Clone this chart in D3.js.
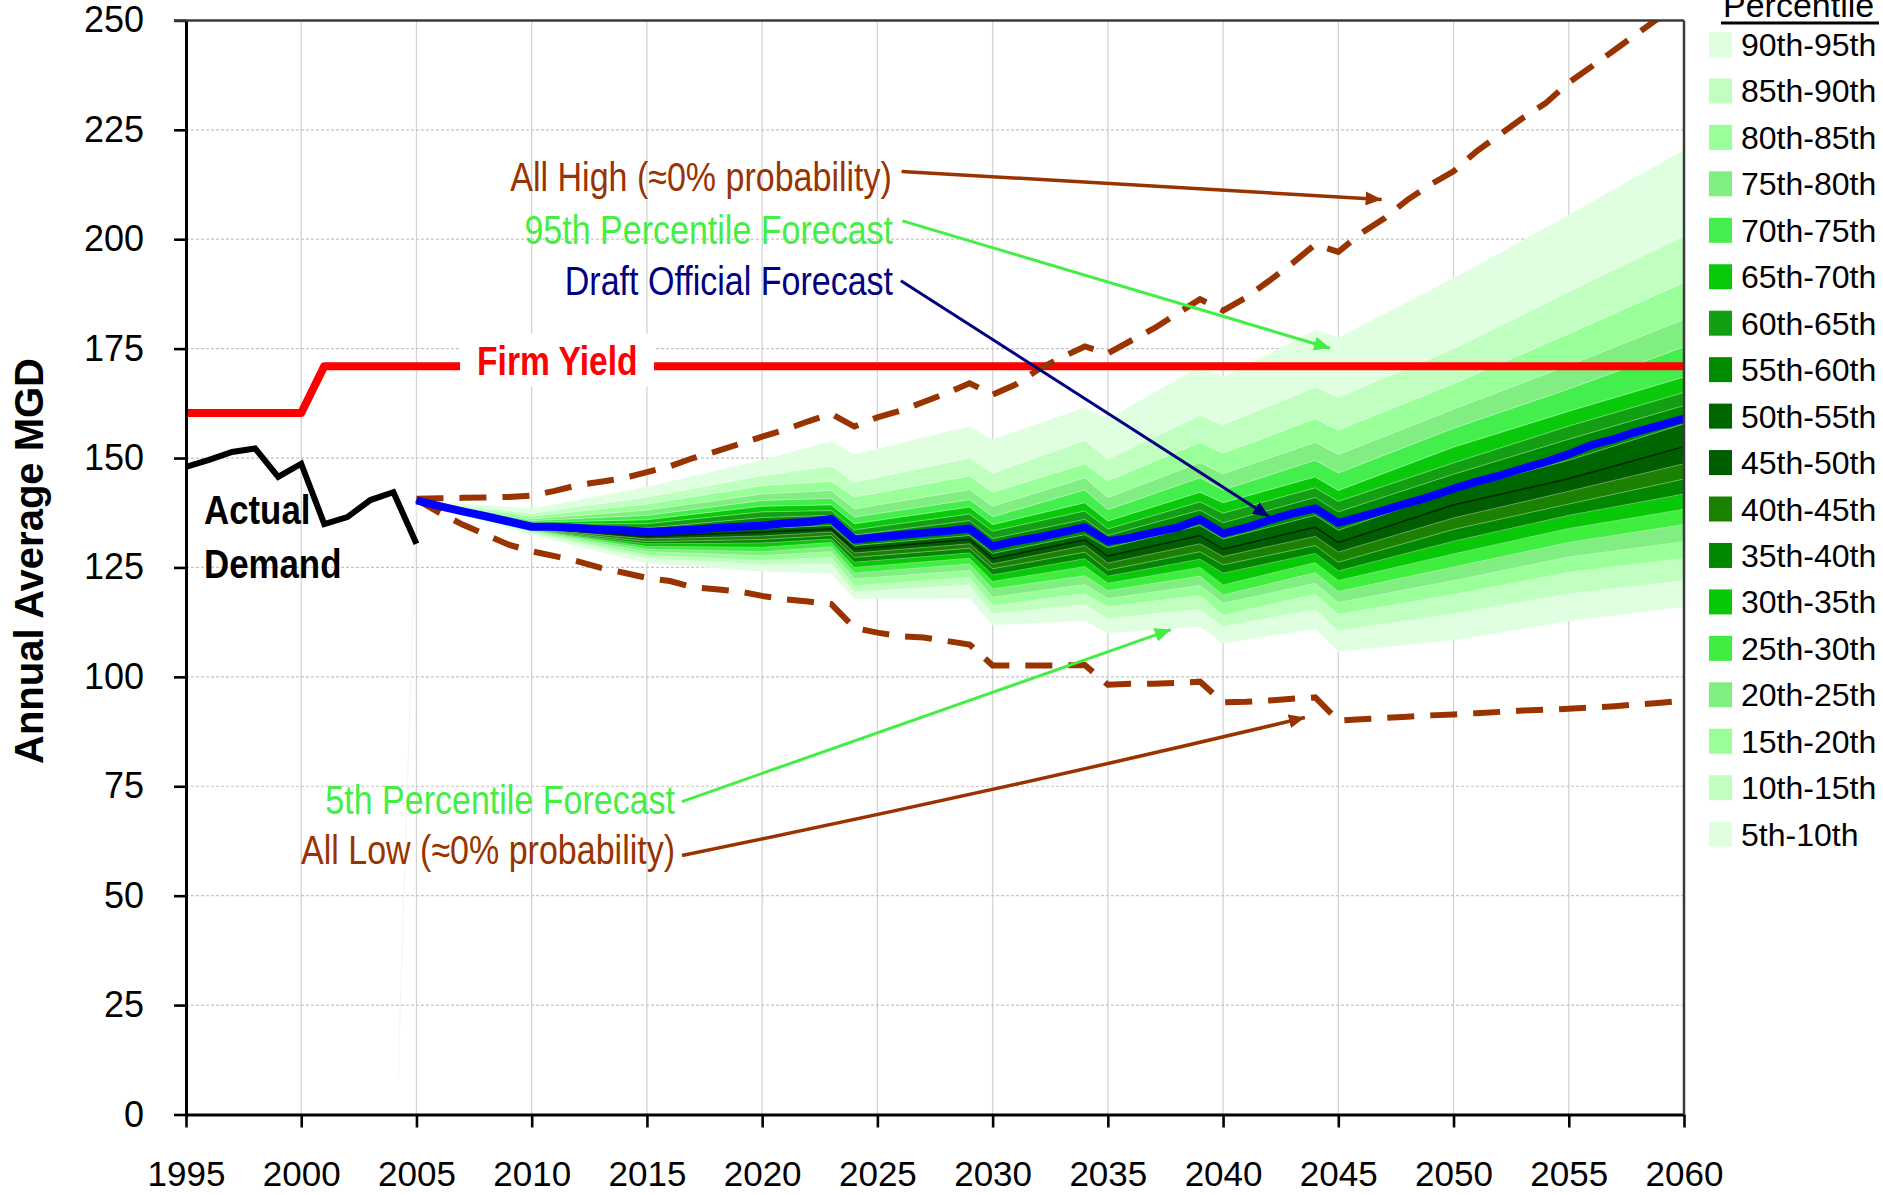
<!DOCTYPE html>
<html><head><meta charset="utf-8">
<script src="https://cdn.jsdelivr.net/npm/d3@7"></script>
<style>
html,body{margin:0;padding:0;background:#fff;overflow:hidden}
svg{display:block;font-family:"Liberation Sans",Arial,Helvetica,sans-serif}
</style></head><body>
<svg id="chart" width="1883" height="1195"></svg>
<script>
// ---------------- data ----------------
const xTicks = [1995,2000,2005,2010,2015,2020,2025,2030,2035,2040,2045,2050,2055,2060];
const yTicks = [0,25,50,75,100,125,150,175,200,225,250];

const actualYears  = [1995,1996,1997,1998,1999,2000,2001,2002,2003,2004,2005];
const actualDemand = [148.0,149.6,151.4,152.2,145.7,148.7,134.9,136.5,140.4,142.2,130.4];

const firmYears = [1995,2000,2001,2060];
const firmYield = [160.3,160.3,171.0,171.0];

const forecastYears = d3.range(2005, 2061);
const officialForecast = [
  140.3,139.0,137.8,136.7,135.5,134.3,134.3,134.0,133.7,133.5,
  133.1,133.4,133.6,134.0,134.3,134.6,135.1,135.4,136.1,131.4,
  131.9,132.4,132.9,133.3,133.9,129.8,131.0,131.9,133.0,134.2,
  131.0,131.8,133.0,134.1,136.0,132.8,134.1,135.8,137.3,138.5,
  135.2,136.6,138.1,139.7,141.2,143.0,144.6,146.0,147.6,149.1,
  150.9,153.0,154.4,156.1,157.5,159.0];
const allHigh = [
  140.7,140.8,140.9,141.0,141.1,141.4,142.5,143.8,144.6,145.4,
  146.8,148.1,150.0,151.5,153.2,154.9,156.5,158.4,160.1,157.2,
  159.3,160.8,162.8,164.8,167.1,164.5,166.8,170.3,173.0,175.5,
  173.9,176.8,179.6,183.0,186.3,183.7,186.7,190.5,194.5,198.8,
  197.1,201.4,204.8,209.0,212.5,215.5,220.1,223.9,227.7,231.1,
  235.8,239.5,243.3,247.1,250.9,254.5];
const allLow = [
  140.5,137.5,134.8,132.5,130.2,128.7,127.6,126.4,124.9,123.8,
  122.6,121.9,120.5,120.0,119.5,118.5,117.7,117.2,116.6,111.2,
  110.1,109.3,109.0,108.2,107.4,102.6,102.6,102.6,102.6,102.7,
  98.2,98.4,98.4,98.6,98.9,94.2,94.3,94.6,95.0,95.3,
  90.0,90.3,90.6,90.9,91.2,91.4,91.7,92.0,92.3,92.5,
  92.7,93.0,93.3,93.7,94.1,94.6];

// percentile boundaries
const pctYears = [2005,2010,2015,2020,2023,2024,2029,2030,2034,2035,2039,2040,2044,2045,2050,2055,2060];
const p05 = [140.3,132.4,126.0,124.1,123.6,117.9,118.0,111.9,112.8,110.0,111.5,107.7,111.0,105.8,108.4,112.8,116.0];
const p10 = [140.3,132.8,127.1,125.6,125.8,119.4,121.0,114.4,116.5,113.3,115.5,111.5,115.4,110.5,114.4,119.0,122.0];
const p15 = [140.3,133.1,127.8,126.6,127.3,120.8,122.7,116.3,119.0,116.0,118.6,114.1,118.9,114.3,118.8,123.9,127.1];
const p20 = [140.3,133.3,128.6,127.7,128.6,122.4,124.3,118.2,121.1,117.9,120.9,116.8,121.4,117.0,122.0,127.4,130.9];
const p25 = [140.3,133.5,129.2,128.6,129.7,123.7,125.8,120.1,123.1,119.7,123.0,118.7,123.8,119.5,125.1,130.7,134.8];
const p30 = [140.3,133.6,129.8,129.6,130.7,125.0,127.1,121.8,125.2,121.4,125.0,121.0,126.1,122.0,128.1,133.9,138.3];
const p35 = [140.3,133.7,130.4,130.6,131.5,126.2,128.3,123.3,127.0,123.0,126.9,123.7,128.2,124.2,131.0,136.9,141.8];
const p40 = [140.3,133.8,130.9,131.4,132.3,127.3,129.4,124.7,128.5,124.4,128.6,125.6,130.0,126.2,133.7,139.5,145.2];
const p45 = [140.3,133.9,131.5,132.2,133.1,128.3,130.4,125.8,130.0,126.0,130.4,127.5,132.1,128.5,136.3,142.4,148.7];
const p50 = [140.3,134.0,132.1,133.1,133.8,129.2,131.4,127.0,131.3,127.6,132.3,129.2,134.2,130.7,139.3,145.3,152.6];
const p55 = [140.3,134.3,132.8,133.9,134.6,130.0,132.3,128.2,132.5,129.5,134.6,131.5,136.9,133.5,142.5,149.5,157.8];
const p60 = [140.3,134.6,134.0,136.4,136.9,132.4,135.7,131.6,136.0,132.3,138.1,135.2,141.0,137.7,146.3,154.3,162.0];
const p65 = [140.3,134.9,135.0,137.7,138.0,133.6,137.2,133.3,137.9,133.8,140.0,137.4,143.2,140.1,148.9,157.3,165.0];
const p70 = [140.3,135.3,135.9,139.0,139.3,135.0,138.8,134.8,139.8,135.6,142.2,139.8,145.7,142.6,152.5,160.7,168.5];
const p75 = [140.3,135.7,136.9,140.3,140.8,136.5,140.5,136.6,142.7,138.2,145.5,142.7,149.5,146.6,156.8,165.8,175.4];
const p80 = [140.3,136.1,138.1,141.8,142.6,138.4,142.8,139.0,145.5,141.0,149.0,146.4,153.6,150.8,161.2,171.2,181.7];
const p85 = [140.3,136.7,139.5,143.7,144.7,141.1,145.9,142.2,148.7,144.8,153.6,151.1,159.0,156.4,167.0,178.4,190.1];
const p90 = [140.3,137.4,141.1,146.0,148.2,144.5,150.0,146.6,154.0,149.8,159.8,157.6,166.2,163.9,175.0,188.0,200.8];
const p95 = [140.3,138.4,143.4,149.5,153.8,150.8,157.2,154.2,161.5,158.8,171.0,168.5,179.2,177.5,191.0,205.5,220.4];

// legend (top to bottom)
const bandLabels = ["90th-95th","85th-90th","80th-85th","75th-80th","70th-75th","65th-70th","60th-65th","55th-60th","50th-55th",
                    "45th-50th","40th-45th","35th-40th","30th-35th","25th-30th","20th-25th","15th-20th","10th-15th","5th-10th"];
const bandColors = ["#e0ffe0","#c0ffc0","#99ff99","#80ee80","#44ee4c","#0ac80a","#12a012","#008c00","#006600",
                    "#005e00","#1a8200","#008800","#08c808","#40ee40","#80ee80","#99ff99","#c0ffc0","#e0ffe0"];

// annotation anchors in data space [year, value]
const annoAllHigh = {text:"All High (\u22480% probability)", at:[2025.63,211.0], from:[2026.05,215.5], to:[2046.88,209.1]};
const anno95      = {text:"95th Percentile Forecast",        at:[2025.68,198.9], from:[2026.09,204.2], to:[2044.64,175.1]};
const annoDraft   = {text:"Draft Official Forecast",         at:[2025.68,187.3], from:[2026.02,190.5], to:[2042.00,136.6]};
const anno5       = {text:"5th Percentile Forecast",         at:[2016.22,68.7],  from:[2016.52,71.5],  to:[2037.73,110.8]};
const annoAllLow  = {text:"All Low (\u22480% probability)",  at:[2016.22,57.2],  from:[2016.52,59.2],  to:[2043.55,90.7]};
const firmLabel   = {text:"Firm Yield", at:[2007.63,169.0], box:[2006.89,2015.31,178.4,166.3]};
const actualLabel = {lines:["Actual","Demand"], at:[1995.78,134.9,122.6]};
const artifactYears = [2004.2,2005], artifactValues = [8,140.3];

// ---------------- drawing ----------------
const svg = d3.select("#chart");
const L = 186, R = 1684, T = 20.4, B = 1114.5;
const x = d3.scaleLinear().domain([1995,2060]).range([L,R]);
const y = d3.scaleLinear().domain([0,250]).range([B,T]);

const BROWN = "#993300", LGREEN = "#44ee44", NAVY = "#000080";

svg.append("defs").append("clipPath").attr("id","plot")
  .append("rect").attr("x",L).attr("y",T).attr("width",R-L).attr("height",B-T);
const defs = svg.select("defs");
function marker(id,color){
  defs.append("marker").attr("id",id).attr("viewBox","0 0 16 14").attr("refX",16).attr("refY",7)
    .attr("markerWidth",16).attr("markerHeight",14).attr("markerUnits","userSpaceOnUse").attr("orient","auto")
    .append("path").attr("d","M0,0 L16,7 L0,14 Z").attr("fill",color);
}
marker("mBrown",BROWN); marker("mGreen",LGREEN); marker("mNavy",NAVY);

// grid
const grid = svg.append("g");
grid.selectAll(".vg").data(xTicks.filter(d=>d>1995&&d<2060)).join("line")
  .attr("x1",d=>x(d)).attr("x2",d=>x(d)).attr("y1",T).attr("y2",B)
  .attr("stroke","#d4d4d4").attr("stroke-width",1.3);
grid.selectAll(".hg").data(yTicks.filter(d=>d>0&&d<250)).join("line")
  .attr("x1",L).attr("x2",R).attr("y1",d=>y(d)).attr("y2",d=>y(d))
  .attr("stroke","#c4c4c4").attr("stroke-width",1.2).attr("stroke-dasharray","3,2");

const plot = svg.append("g").attr("clip-path","url(#plot)");

// faint artifact
plot.append("path").datum(artifactYears.map((d,i)=>[d,artifactValues[i]]))
  .attr("d",d3.line().x(d=>x(d[0])).y(d=>y(d[1]))).attr("fill","none")
  .attr("stroke","#edf8ed").attr("stroke-width",1);

// bands
const bounds = [p05,p10,p15,p20,p25,p30,p35,p40,p45,p50,p55,p60,p65,p70,p75,p80,p85,p90,p95];
const area = d3.area().x(d=>x(d.year)).y0(d=>y(d.lo)).y1(d=>y(d.hi));
for (let i=0;i<18;i++){
  const lo = bounds[i], hi = bounds[i+1];
  const data = pctYears.map((yr,j)=>({year:yr, lo:lo[j], hi:hi[j]}));
  plot.append("path").datum(data).attr("d",area).attr("fill",bandColors[17-i]).attr("stroke",bandColors[17-i]).attr("stroke-width",0.5);
}
const bline = d3.line().x(d=>x(d.year)).y(d=>y(d.v));
for (let i=1;i<18;i++){
  const data = pctYears.map((yr,j)=>({year:yr, v:bounds[i][j]}));
  plot.append("path").datum(data).attr("d",bline).attr("fill","none")
    .attr("stroke", i===9 ? "#002a00" : "rgba(255,255,255,0.35)")
    .attr("stroke-width", i===9 ? 1.6 : 1);
}

// firm yield
plot.append("path").datum(firmYears.map((d,i)=>({year:d,v:firmYield[i]})))
  .attr("d",bline).attr("fill","none").attr("stroke","#ff0000").attr("stroke-width",8).attr("stroke-linejoin","round");
const fb = firmLabel.box;
svg.append("rect").attr("x",x(fb[0])).attr("width",x(fb[1])-x(fb[0]))
  .attr("y",y(fb[2])).attr("height",y(fb[3])-y(fb[2])).attr("fill","#fff");
svg.append("text").attr("transform",`translate(${x(firmLabel.at[0])},${y(firmLabel.at[1])}) scale(0.84,1)`)
  .attr("font-size",40).attr("font-weight","bold").attr("fill","#ff0000").text(firmLabel.text);

// dashed high/low
const fl = d3.line().x((d,i)=>x(forecastYears[i])).y(d=>y(d));
[allHigh, allLow].forEach(s=>{
  plot.append("path").datum(s).attr("d",fl).attr("fill","none").attr("stroke",BROWN)
    .attr("stroke-width",6).attr("stroke-dasharray","27,16");
});
// official forecast
plot.append("path").datum(officialForecast).attr("d",fl).attr("fill","none")
  .attr("stroke","#0000ff").attr("stroke-width",8).attr("stroke-linejoin","round");
// actual demand
plot.append("path").datum(actualDemand).attr("d",d3.line().x((d,i)=>x(actualYears[i])).y(d=>y(d)))
  .attr("fill","none").attr("stroke","#000").attr("stroke-width",6).attr("stroke-linejoin","miter");

// axes
const yAxis = svg.append("g").attr("transform",`translate(${L},0)`)
  .call(d3.axisLeft(y).tickValues(yTicks).tickSize(12).tickSizeOuter(0).tickPadding(30).tickFormat(d3.format("d")));
const xAxis = svg.append("g").attr("transform",`translate(0,${B})`)
  .call(d3.axisBottom(x).tickValues(xTicks).tickSize(13).tickSizeOuter(0).tickPadding(34).tickFormat(d3.format("d")));
[yAxis,xAxis].forEach(a=>{
  a.attr("font-size",null).attr("font-family",null);
  a.select(".domain").attr("stroke","#000").attr("stroke-width",3);
  a.selectAll(".tick line").attr("stroke","#000").attr("stroke-width",2.6);
  a.selectAll(".tick text").attr("font-size",36).attr("fill","#000");
});
xAxis.selectAll(".tick text").attr("font-size",35);
// frame top/right
svg.append("line").attr("x1",L-12).attr("x2",R).attr("y1",T).attr("y2",T).attr("stroke","#3a3a3a").attr("stroke-width",2.5);
svg.append("line").attr("x1",R).attr("x2",R).attr("y1",T).attr("y2",B).attr("stroke","#3a3a3a").attr("stroke-width",2.5);

// y-axis title
svg.append("text").attr("transform",`translate(43,561) rotate(-90)`).attr("text-anchor","middle")
  .attr("font-size",40).attr("font-weight","bold").attr("fill","#000").text("Annual Average MGD");

// actual demand label
actualLabel.lines.forEach((t,i)=>{
  svg.append("text").attr("transform",`translate(${x(actualLabel.at[0])},${y(actualLabel.at[i+1])}) scale(0.85,1)`)
    .attr("font-size",41).attr("font-weight","bold").attr("fill","#000").text(t);
});

// annotations
function anno(a,color,mk,w,curve){
  const p0=[x(a.from[0]),y(a.from[1])], p1=[x(a.to[0]),y(a.to[1])];
  let d;
  if(curve){
    const mx=(p0[0]+p1[0])/2, my=(p0[1]+p1[1])/2;
    d=`M${p0[0]},${p0[1]} Q${mx+curve[0]},${my+curve[1]} ${p1[0]},${p1[1]}`;
  } else d=`M${p0[0]},${p0[1]} L${p1[0]},${p1[1]}`;
  svg.append("path").attr("d",d).attr("fill","none").attr("stroke",color).attr("stroke-width",w).attr("marker-end",`url(#${mk})`);
  svg.append("text").attr("transform",`translate(${x(a.at[0])},${y(a.at[1])}) scale(0.83,1)`)
    .attr("text-anchor","end").attr("font-size",41).attr("fill",color).text(a.text);
}
anno(annoAllHigh,BROWN,"mBrown",3.5);
anno(anno95,LGREEN,"mGreen",3);
anno(annoDraft,NAVY,"mNavy",3);
anno(anno5,LGREEN,"mGreen",3);
anno(annoAllLow,BROWN,"mBrown",3.5,[2,5]);

// legend (title sits at the very top edge, partly cropped as in the reference)
const lg = svg.append("g");
lg.append("text").attr("x",1723).attr("y",17).attr("font-size",34).attr("fill","#000").text("Percentile");
lg.append("line").attr("x1",1721).attr("x2",1879).attr("y1",23).attr("y2",23).attr("stroke","#000").attr("stroke-width",3);
bandLabels.forEach((t,i)=>{
  const cy = 44.5 + i*46.45;
  lg.append("rect").attr("x",1709).attr("y",cy-12.5).attr("width",23).attr("height",25).attr("fill",bandColors[i]);
  lg.append("text").attr("x",1741).attr("y",cy+11.5).attr("font-size",32).attr("fill","#000").text(t);
});
</script>
</body></html>
